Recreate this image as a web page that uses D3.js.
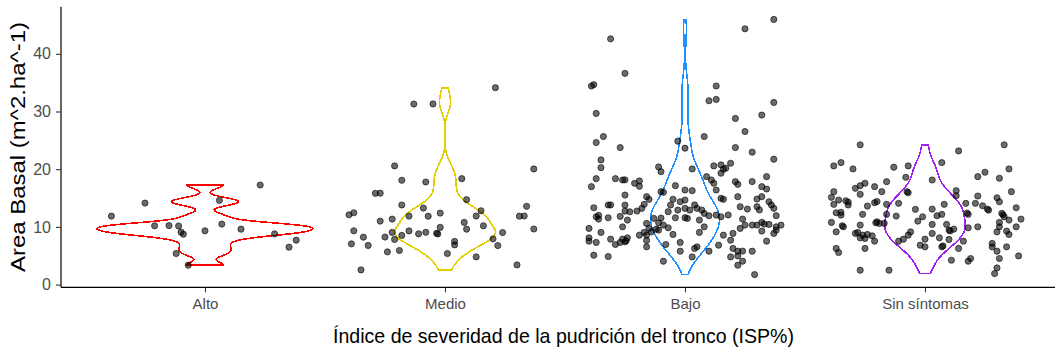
<!DOCTYPE html>
<html>
<head>
<meta charset="utf-8">
<script src="https://cdn.jsdelivr.net/npm/d3@7"></script>
<style>
  html, body { margin: 0; padding: 0; background: #fff; }
  svg { display: block; }
  text { font-family: "Liberation Sans", Arial, sans-serif; }
</style>
</head>
<body>
<svg id="chart" width="1055" height="352"></svg>
<script>
// Severity classes (x) and their violin colours
const categories = ["Alto", "Medio", "Bajo", "Sin síntomas"];
const violinColors = ["#FF0000", "#E3CF00", "#1E90FF", "#A020F0"];
const yTicks = [0, 10, 20, 30, 40];
const xTitle = "Índice de severidad de la pudrición del tronco (ISP%)";
const yTitle = "Area Basal (m^2.ha^-1)";

// Each tree plot: [horizontal jitter (fraction of a category step), basal area m²/ha]
const alto = [
  [-0.39,11.87],[-0.25,14.13],[0.23,17.26],[0.06,14.60],[-0.21,10.19],[-0.15,10.22],
  [-0.11,10.15],[-0.10,9.09],[-0.09,8.74],[0.00,9.32],[0.07,10.48],[0.15,9.61],
  [0.29,8.80],[0.38,7.70],[0.35,6.48],[-0.12,5.39],[-0.07,3.36]
];

const medio = [
  [0.21,34.12],[-0.13,31.29],[-0.05,31.31],[0.37,20.04],[-0.21,20.57],[-0.18,18.08],
  [-0.08,17.78],[0.07,18.36],[-0.29,15.82],[-0.27,15.84],[-0.18,13.79],[0.09,14.71],
  [-0.09,13.26],[-0.40,12.10],[-0.38,12.45],[-0.27,11.00],[-0.22,11.35],[-0.15,11.87],
  [-0.07,11.85],[-0.02,12.39],[0.15,12.79],[0.13,11.88],[0.34,13.56],[0.31,11.86],
  [0.33,11.89],[-0.38,9.32],[-0.34,8.22],[-0.39,7.06],[-0.32,6.78],[-0.25,8.24],
  [-0.22,9.04],[-0.21,7.82],[-0.18,8.52],[-0.15,9.30],[-0.11,8.80],[-0.08,9.06],
  [-0.02,9.91],[-0.03,8.78],[-0.035,8.90],[0.08,10.78],[0.09,9.61],[0.16,10.19],
  [0.04,7.48],[0.04,6.88],[0.01,5.39],[0.13,4.80],[0.20,7.93],[0.22,6.76],
  [0.24,9.02],[0.37,9.63],[-0.24,5.67],[-0.19,5.91],[-0.35,2.54],[0.30,3.41]
];

const bajo = [
  [-0.31,42.59],[0.37,45.95],[0.25,44.33],[-0.25,36.61],[-0.39,34.42],[-0.38,34.65],
  [0.13,34.42],[0.10,31.86],[0.13,32.09],[0.37,31.57],[-0.37,29.66],[0.32,29.38],
  [0.21,28.79],[0.25,26.53],[-0.34,25.66],[-0.37,24.62],[0.08,25.66],[-0.03,24.86],
  [-0.27,23.75],[0.00,23.64],[0.21,23.75],[0.28,22.95],[0.37,21.73],
  [-0.35,21.61],[-0.35,20.27],[-0.11,20.39],[-0.10,19.57],[-0.37,18.36],[-0.39,16.97],
  [-0.29,18.36],[-0.26,18.13],[-0.25,18.15],[-0.21,17.56],[-0.19,17.96],[-0.19,17.04],
  [-0.04,17.14],[-0.09,15.99],[-0.10,16.10],[0.00,16.39],[-0.25,15.52],[-0.16,15.23],
  [-0.15,14.78],[-0.05,14.79],[-0.02,14.36],[0.00,14.65],[-0.32,13.79],[-0.31,13.80],
  [-0.25,13.78],[-0.17,13.91],[-0.06,13.79],[-0.38,13.32],[-0.25,12.74],[-0.23,12.62],
  [-0.20,12.75],[-0.18,13.21],[-0.07,12.63],[-0.03,12.92],[0.00,13.21],[-0.37,11.75],
  [-0.36,12.00],[-0.36,11.35],[-0.32,11.58],[-0.24,11.18],[-0.27,11.82],[-0.13,11.47],
  [-0.10,11.53],[-0.04,11.58],[0.00,11.59],[-0.16,10.60],[-0.11,10.71],[-0.09,10.31],
  [-0.07,9.84],[-0.26,10.01],[-0.40,9.74],[-0.35,9.04],[-0.31,7.87],[-0.40,8.10],
  [-0.40,7.53],[-0.37,7.30],[-0.26,7.88],[-0.25,7.41],[-0.245,7.60],[-0.24,8.10],
  [-0.29,6.95],[-0.27,7.31],[-0.19,8.57],[-0.17,9.05],[-0.16,8.58],[-0.14,9.14],
  [-0.16,7.65],[-0.16,6.54],[-0.15,9.74],[-0.11,9.44],[-0.12,9.60],[-0.05,8.69],
  [-0.08,6.95],[-0.02,7.30],[-0.02,5.79],[-0.38,5.09],[-0.32,4.87],[-0.09,4.05],
  [0.03,20.04],[0.12,20.57],[0.15,20.74],[0.17,20.17],[0.16,20.00],[0.19,21.03],
  [0.15,19.30],[0.09,18.71],[0.11,18.13],[0.12,17.56],[0.03,16.27],[0.13,16.39],
  [0.21,17.84],[0.22,17.38],[0.28,17.85],[0.34,18.71],[0.32,16.97],[0.34,16.57],
  [0.15,14.95],[0.16,14.78],[0.22,15.23],[0.30,14.83],[0.32,15.24],[0.35,14.36],
  [0.36,13.79],[0.04,13.80],[0.05,13.21],[0.07,12.92],[0.08,12.34],[0.10,11.93],
  [0.13,12.05],[0.15,11.75],[0.18,12.06],[0.23,13.49],[0.26,13.09],[0.30,13.50],
  [0.31,12.93],[0.37,13.22],[0.38,11.94],[0.02,12.92],[0.01,11.47],[0.06,11.18],
  [0.24,11.35],[0.25,10.31],[0.28,10.32],[0.30,10.31],[0.32,10.78],[0.33,10.48],
  [0.35,10.43],[0.38,10.01],[0.40,10.31],[0.32,9.27],[0.37,8.87],[0.23,9.74],
  [0.20,8.87],[0.08,10.01],[0.06,9.04],[0.16,8.57],[0.19,7.70],[0.34,7.53],
  [0.10,5.79],[0.14,6.83],[0.04,6.26],[0.03,4.80],[0.20,6.26],[0.22,5.79],
  [0.24,5.80],[0.28,5.79],[0.19,4.80],[0.22,4.97],[0.24,4.05],[0.22,3.36],
  [0.29,1.74],[0.38,9.44],[0.05,6.54]
];

const sinSintomas = [
  [-0.27,24.22],[-0.38,20.57],[-0.35,21.14],[-0.30,20.04],[-0.13,20.34],[-0.07,20.57],
  [-0.08,18.60],[-0.16,17.84],[-0.25,17.56],[-0.27,17.14],[-0.29,16.69],[-0.27,15.65],
  [-0.21,16.97],[-0.18,16.10],[-0.38,16.10],[-0.39,15.12],[-0.36,14.65],[-0.38,13.91],
  [-0.33,14.53],[-0.32,14.30],[-0.32,13.79],[-0.21,14.19],[-0.20,14.40],[-0.24,13.61],
  [-0.16,13.91],[-0.11,14.08],[-0.07,15.92],[-0.075,16.10],[-0.37,12.45],[-0.35,12.05],
  [-0.35,12.52],[-0.26,12.17],[-0.16,12.17],[-0.12,11.87],[-0.04,13.04],[-0.39,10.78],
  [-0.34,10.01],[-0.345,10.20],[-0.37,9.14],[-0.27,10.31],[-0.20,10.88],[-0.205,10.70],
  [-0.19,10.60],[-0.17,10.60],[-0.03,11.00],[-0.01,11.75],[-0.29,8.87],[-0.28,9.04],
  [-0.26,8.57],[-0.24,8.69],[-0.22,8.45],[-0.25,8.00],[-0.27,8.10],[-0.21,7.53],
  [-0.11,7.53],[-0.09,7.87],[-0.07,8.57],[-0.06,9.14],[-0.02,6.83],[-0.37,6.26],
  [-0.36,5.56],[-0.25,6.26],[-0.27,2.49],[-0.15,2.49],
  [0.14,23.17],[0.33,24.22],[0.07,21.14],[0.35,20.04],[0.22,18.71],[0.25,19.47],
  [0.31,18.43],[0.03,18.13],[0.13,16.27],[0.13,15.40],[0.36,16.10],[0.22,15.35],
  [0.21,14.08],[0.24,13.66],[0.26,13.09],[0.265,12.90],[0.30,15.05],[0.31,14.36],
  [0.17,14.08],[0.08,13.91],[0.03,13.09],[0.38,13.32],[0.07,12.17],[0.05,11.93],
  [0.18,12.17],[0.175,12.40],[0.32,12.34],[0.325,12.10],[0.33,11.75],[0.35,11.18],
  [0.40,11.35],[0.03,10.43],[0.09,10.43],[0.22,10.01],[0.31,10.78],[0.31,10.01],
  [0.30,9.14],[0.10,9.44],[0.105,9.30],[0.12,9.61],[0.18,9.84],[0.38,10.01],
  [0.34,9.27],[0.35,8.69],[0.03,8.87],[0.06,8.10],[0.00,7.87],[0.00,6.54],
  [0.10,7.82],[0.16,7.53],[0.14,6.26],[0.07,6.54],[0.075,6.70],[0.28,7.13],
  [0.28,6.54],[0.30,5.79],[0.34,6.54],[0.39,4.97],[0.31,4.52],[0.11,4.22],
  [0.18,4.05],[0.19,4.52],[0.30,2.89],[0.29,1.91]
];

const groups = [alto, medio, bajo, sinSintomas];

// ---- layout ----
const W = 1055, H = 352;
const panel = { left: 61, right: 1069, top: 6.7, bottom: 287.3 };

const svg = d3.select("#chart");

const x = d3.scalePoint()
  .domain(categories)
  .range([panel.left, panel.right])
  .padding(0.6);
const step = x.step();

const allValues = groups.flatMap(g => g.map(d => d[1]));
const [vMin, vMax] = d3.extent(allValues);
const pad = (vMax - vMin) * 0.05;
const y = d3.scaleLinear()
  .domain([vMin - pad, vMax + pad])
  .range([panel.bottom, panel.top]);

// ---- kernel density (gaussian, Silverman's rule of thumb) ----
function quantile7(sorted, p) {
  const h = (sorted.length - 1) * p;
  const lo = Math.floor(h);
  const hi = Math.min(lo + 1, sorted.length - 1);
  return sorted[lo] + (h - lo) * (sorted[hi] - sorted[lo]);
}
function bwNrd0(v) {
  const s = v.slice().sort((a, b) => a - b);
  const sd = d3.deviation(v);
  const iqr = quantile7(s, 0.75) - quantile7(s, 0.25);
  let lo = Math.min(sd, iqr / 1.34);
  if (!(lo > 0)) lo = sd || 1;
  return 0.9 * lo * Math.pow(v.length, -0.2);
}
function density(v) {
  const bw = bwNrd0(v);
  const lo = d3.min(v), hi = d3.max(v), n = 512;
  const k = 1 / (v.length * bw * Math.sqrt(2 * Math.PI));
  const out = [];
  for (let i = 0; i < n; i++) {
    const t = lo + (hi - lo) * i / (n - 1);
    let s = 0;
    for (const xi of v) { const z = (t - xi) / bw; s += Math.exp(-0.5 * z * z); }
    out.push([t, s * k]);
  }
  return out;
}

const dens = groups.map(g => density(g.map(d => d[1])));
const maxDens = d3.max(dens, ds => d3.max(ds, d => d[1]));
const halfW = d3.scaleLinear().domain([0, maxDens]).range([0, step * 0.45]);

// ---- violins ----
const gViolin = svg.append("g");
categories.forEach((c, i) => {
  const cx = x(c);
  const area = d3.area()
    .y(d => y(d[0]))
    .x0(d => cx - halfW(d[1]))
    .x1(d => cx + halfW(d[1]));
  gViolin.append("path")
    .attr("d", area(dens[i]))
    .attr("fill", "none")
    .attr("stroke", violinColors[i])
    .attr("stroke-width", 1.6)
    .attr("shape-rendering", "crispEdges");
});

// ---- jittered points ----
const gPts = svg.append("g");
categories.forEach((c, i) => {
  gPts.selectAll(null)
    .data(groups[i])
    .enter()
    .append("circle")
    .attr("cx", d => x(c) + d[0] * step)
    .attr("cy", d => y(d[1]))
    .attr("r", 3.1)
    .attr("fill", "#000")
    .attr("fill-opacity", 0.58)
    .attr("stroke", "#000")
    .attr("stroke-opacity", 0.58)
    .attr("stroke-width", 1);
});

// ---- axes ----
const yAxis = svg.append("g")
  .attr("transform", `translate(${panel.left},0)`)
  .call(d3.axisLeft(y).tickValues(yTicks).tickSize(5).tickSizeOuter(0).tickPadding(5));
const xAxis = svg.append("g")
  .attr("transform", `translate(0,${panel.bottom})`)
  .call(d3.axisBottom(x).tickSize(5).tickSizeOuter(0).tickPadding(6));

[yAxis, xAxis].forEach(a => {
  a.select(".domain").attr("stroke", "#000").attr("stroke-width", 1.2);
  a.selectAll(".tick line").attr("stroke", "#333").attr("stroke-width", 1.1);
  a.selectAll(".tick text")
    .attr("fill", "#4D4D4D")
    .style("font-family", '"Liberation Sans", Arial, sans-serif');
});
yAxis.selectAll(".tick text").style("font-size", "16px");
xAxis.selectAll(".tick text").style("font-size", "15px");
// extend axis lines over the full panel
yAxis.select(".domain").attr("d", `M0,${panel.top}V${panel.bottom}`);
xAxis.select(".domain").attr("d", `M${panel.left},0H${panel.right}`);

// ---- titles ----
svg.append("text")
  .attr("x", (panel.left + panel.right) / 2 - 1.5)
  .attr("y", 343)
  .attr("text-anchor", "middle")
  .attr("fill", "#000")
  .attr("textLength", 461)
  .attr("lengthAdjust", "spacingAndGlyphs")
  .style("font-size", "21px")
  .text(xTitle);

svg.append("text")
  .attr("transform", `translate(25,${(panel.top + panel.bottom) / 2}) rotate(-90)`)
  .attr("text-anchor", "middle")
  .attr("fill", "#000")
  .attr("textLength", 250)
  .attr("lengthAdjust", "spacingAndGlyphs")
  .style("font-size", "20px")
  .text(yTitle);
</script>
</body>
</html>
